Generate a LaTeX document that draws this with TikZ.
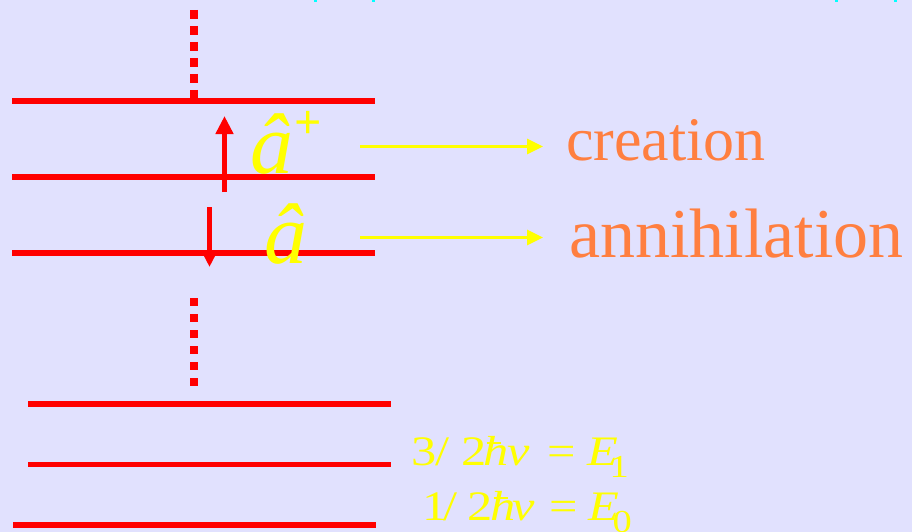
\documentclass[tikz,border=0pt]{standalone}
\usepackage{fontspec}
\setmainfont{Liberation Serif}
\newfontfamily\eqfont[FakeStretch=1.2]{Liberation Serif}
\usetikzlibrary{arrows.meta}

\definecolor{bgc}{RGB}{225,225,254}
\definecolor{lvlred}{RGB}{255,0,0}
\definecolor{opyel}{RGB}{255,255,0}
\definecolor{wordorange}{RGB}{255,127,64}
\definecolor{tickcyan}{RGB}{0,255,255}

% italic h with a crossing bar (Planck's reduced constant)
\newcommand\hbarit{\rlap{\kern0.07em\raisebox{0.5em}{\rule{0.33em}{0.05em}}}\textit{h}}
% set a glyph at a fixed offset from the start of the line
\newcommand\putg[2]{\rlap{\hspace{#1pt}#2}}
\newcommand\subdig[1]{\raisebox{-12pt}{\fontsize{32}{32}\selectfont #1}}

\begin{document}
\begin{tikzpicture}[x=1pt,y=-1pt,
  level/.style={draw=lvlred,line width=5.5pt},
  dotline/.style={draw=lvlred,line width=7.5pt,dash pattern=on 9pt off 7pt},
  dotlinem/.style={draw=lvlred,line width=7.5pt,dash pattern=on 8pt off 8pt},
  ladder/.style={draw=lvlred,line width=5.5pt},
  opname/.style={draw=opyel,line width=3pt,-{Triangle[width=15pt,length=16pt]}},
  optext/.style={anchor=base west,inner sep=0pt,text=opyel,font=\fontsize{86}{86}\selectfont\itshape},
  word/.style={anchor=base west,inner sep=0pt,text=wordorange},
  energy/.style={anchor=base west,inner sep=0pt,text=opyel,font=\eqfont\fontsize{42}{42}\selectfont}]

\fill[bgc] (0,0) rectangle (912,532);
\useasboundingbox (0,0) rectangle (912,532);

% fragments at the top edge
\foreach \xx in {314,372,835,894}
  \fill[tickcyan] (\xx,0) rectangle ++(3,2.5);

% upper energy levels
\draw[level] (12,101) -- (375,101);
\draw[level] (12,177) -- (375,177);
\draw[level] (12,253) -- (375,253);
\draw[dotline] (194,10) -- (194,100);
\draw[dotlinem] (194,298) -- (194,386);

% lower energy levels
\draw[level] (28,404) -- (391,404);
\draw[level] (28,464.5) -- (391,464.5);
\draw[level] (13,525) -- (376,525);

% raising and lowering steps
\coordinate (upS) at (224.5,192);
\coordinate (upE) at (224.5,116);
\coordinate (dnS) at (209.5,207);
\coordinate (dnE) at (209.5,267);
\draw[ladder,-{Triangle[width=17pt,length=18pt]}] (upS) -- (upE);
\draw[ladder,-{Triangle[width=14pt,length=15pt]}] (dnS) -- (dnE);

% operators
\node[optext] (adag) at (250,173.5) {â};
\node[inner sep=0pt,text=opyel,font=\fontsize{48}{48}\selectfont\bfseries] (plus) at (308.5,124.5) {+};
\node[optext] (ann) at (264.5,263.5) {â};

% names of the operators
\node[word,font=\fontsize{62}{62}\selectfont] (cre) at (566,160) {creation};
\node[word,font=\fontsize{70}{70}\selectfont] (anh) at (569,257) {annihilation};
\coordinate (c1s) at (360,146.5);
\coordinate (c1e) at (543,146.5);
\coordinate (c2s) at (360,237.5);
\coordinate (c2e) at (543,237.5);
\draw[opname] (c1s) -- (c1e);
\draw[opname] (c2s) -- (c2e);

% energies of the two lowest levels
\node[energy] (e1) at (411,465) {\putg{0}{3}\putg{24}{/}\putg{50}{2}\putg{72}{\itshape\hbarit}\putg{96}{\itshape ν}\putg{136}{=}\putg{176}{\itshape E}\putg{198}{\subdig{1}}\hspace{212pt}};
\node[energy] (e0) at (411,520) {\putg{11}{1}\putg{32}{/}\putg{56}{2}\putg{79}{\itshape\hbarit}\putg{101}{\itshape ν}\putg{137.5}{=}\putg{177}{\itshape E}\putg{201}{\subdig{0}}\hspace{216pt}};

\end{tikzpicture}
\end{document}
